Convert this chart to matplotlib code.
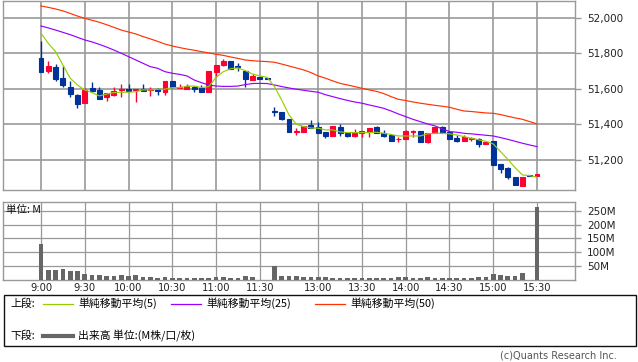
import matplotlib
matplotlib.use("Agg")
import matplotlib.pyplot as plt
from matplotlib.patches import Rectangle
from matplotlib.lines import Line2D
from matplotlib.ticker import FuncFormatter

# ---------------- data (5-minute candles, index 0 = 9:00) ----------------
open_ = [51773, 51702, 51724, 51660, 51610, 51565, 51521, 51604, 51593, 51551,
         51565, 51591, 51600, 51591, 51600, 51593, 51600, 51583, 51644, 51602,
         51600, 51608, 51604, 51583, 51693, 51734, 51756, 51728, 51700, 51649,
         51664, 51662, 51473, 51469, 51429, 51356, 51358, 51395, 51384, 51356,
         51335, 51384, 51352, 51335, 51348, 51354, 51384, 51352, 51341, 51314,
         51318, 51356, 51360, 51301, 51350, 51384, 51356, 51322, 51307, 51316,
         51314, 51290, 51303, 51175, 51151, 51100, 51053, 51113, 51109]
high = [51871, 51756, 51739, 51728, 51642, 51570, 51602, 51638, 51610, 51574,
        51608, 51625, 51625, 51597, 51627, 51608, 51606, 51644, 51644, 51627,
        51627, 51615, 51621, 51700, 51734, 51770, 51758, 51747, 51700, 51683,
        51664, 51662, 51495, 51471, 51429, 51376, 51392, 51423, 51412, 51356,
        51390, 51401, 51352, 51373, 51360, 51378, 51390, 51369, 51341, 51329,
        51367, 51367, 51360, 51350, 51384, 51390, 51360, 51337, 51337, 51329,
        51322, 51301, 51303, 51175, 51160, 51100, 51102, 51113, 51121]
low = [51696, 51691, 51645, 51608, 51555, 51493, 51521, 51580, 51544, 51533,
       51559, 51555, 51585, 51527, 51585, 51559, 51566, 51565, 51602, 51602,
       51598, 51583, 51583, 51583, 51664, 51730, 51711, 51700, 51612, 51649,
       51655, 51657, 51446, 51425, 51355, 51339, 51358, 51380, 51352, 51320,
       51335, 51335, 51329, 51329, 51328, 51328, 51352, 51329, 51307, 51297,
       51318, 51329, 51301, 51296, 51350, 51352, 51314, 51301, 51307, 51307,
       51273, 51290, 51171, 51126, 51092, 51059, 51053, 51107, 51109]
close = [51696, 51728, 51655, 51623, 51572, 51516, 51593, 51589, 51544, 51574,
         51587, 51598, 51585, 51597, 51589, 51597, 51589, 51644, 51608, 51608,
         51613, 51600, 51583, 51700, 51734, 51756, 51711, 51723, 51655, 51672,
         51657, 51657, 51469, 51429, 51358, 51360, 51392, 51380, 51352, 51335,
         51390, 51348, 51333, 51352, 51360, 51378, 51352, 51335, 51307, 51318,
         51360, 51360, 51301, 51350, 51384, 51352, 51318, 51307, 51326, 51320,
         51288, 51301, 51171, 51149, 51104, 51059, 51102, 51107, 51121]

ma5 = [51913, 51856, 51809, 51734, 51659, 51621, 51593, 51578, 51559, 51570,
       51578, 51580, 51580, 51583, 51593, 51593, 51597, 51597, 51606, 51606,
       51614, 51615, 51606, 51612, 51664, 51696, 51713, 51717, 51702, 51683,
       51672, 51664, 51612, 51536, 51452, 51399, 51386, 51378, 51377, 51367,
       51367, 51356, 51352, 51352, 51352, 51352, 51354, 51348, 51341, 51333,
       51333, 51333, 51333, 51345, 51348, 51348, 51345, 51339, 51329, 51320,
       51311, 51303, 51288, 51245, 51201, 51154, 51113, 51109, 51100]
ma25 = [51954, 51943, 51931, 51918, 51905, 51890, 51875, 51864, 51850, 51835,
        51818, 51800, 51781, 51762, 51743, 51724, 51715, 51696, 51687, 51681,
        51672, 51649, 51634, 51621, 51615, 51613, 51613, 51615, 51623, 51629,
        51630, 51629, 51621, 51612, 51604, 51597, 51591, 51585, 51580, 51566,
        51555, 51544, 51534, 51525, 51518, 51508, 51499, 51489, 51474, 51457,
        51442, 51427, 51414, 51401, 51390, 51373, 51358, 51354, 51348, 51345,
        51341, 51337, 51333, 51324, 51314, 51303, 51292, 51282, 51273]
ma50 = [52067, 52059, 52050, 52039, 52025, 52010, 51997, 51986, 51975, 51961,
        51946, 51931, 51920, 51909, 51894, 51881, 51867, 51852, 51841, 51832,
        51824, 51817, 51809, 51802, 51794, 51788, 51779, 51771, 51762, 51758,
        51755, 51753, 51749, 51739, 51728, 51717, 51706, 51691, 51672, 51659,
        51644, 51630, 51621, 51612, 51602, 51593, 51585, 51572, 51555, 51540,
        51533, 51525, 51518, 51512, 51506, 51501, 51495, 51484, 51474, 51471,
        51467, 51463, 51461, 51454, 51444, 51435, 51427, 51414, 51401]

volume = [130, 37, 37, 40, 31, 31, 23, 19, 19, 15,
          15, 19, 15, 19, 12, 12, 8, 12, 8, 8,
          8, 8, 8, 8, 12, 12, 8, 8, 15, 12,
          1, 0, 49, 15, 15, 15, 12, 12, 12, 12,
          8, 8, 8, 8, 8, 8, 8, 8, 8, 12,
          12, 8, 8, 12, 8, 8, 8, 8, 8, 8,
          12, 12, 23, 19, 15, 15, 26, 1, 263]

tick_pos = [0, 6, 12, 18, 24, 30, 38, 44, 50, 56, 62, 68]
tick_labels = ["9:00", "9:30", "10:00", "10:30", "11:00", "11:30",
               "13:00", "13:30", "14:00", "14:30", "15:00", "15:30"]
price_ticks = [51200, 51400, 51600, 51800, 52000]
vol_ticks = [50, 100, 150, 200, 250]

# ---------------- styling ----------------
UP = "#ff0033"
DOWN = "#003399"
C5 = "#99cc00"
C25 = "#9900ff"
C50 = "#ff3300"
GRID = "#999999"
VOL = "#666666"
JP = ["Noto Sans CJK JP", "DejaVu Sans"]

plt.rcParams["font.family"] = ["DejaVu Sans"]

W, H = 638, 362
fig = plt.figure(figsize=(W / 100, H / 100), dpi=100)
fig.patch.set_facecolor("white")


def box(l, t, r, b):
    return [l / W, 1 - b / H, (r - l) / W, (b - t) / H]


xlim = (-5.21, 73.14)
ax_p = fig.add_axes(box(3, 1, 574.5, 190))
ax_v = fig.add_axes(box(3, 201.7, 574.5, 280))

n = len(close)
xs = list(range(n))

for ax in (ax_p, ax_v):
    ax.set_xlim(*xlim)
    for s in ax.spines.values():
        s.set_color(GRID)
        s.set_linewidth(1.0)
    ax.set_xticks(tick_pos)
    ax.yaxis.tick_right()
    ax.tick_params(axis="y", which="both", length=4, color=GRID, width=1.0,
                   labelsize=7.5, pad=5, labelcolor="#222222")
    ax.tick_params(axis="x", length=0, labelsize=7.2, pad=2, labelcolor="#222222")
    ax.set_axisbelow(True)

# ---- price panel ----
ax_p.set_ylim(51028, 52095)
ax_p.set_yticks(price_ticks)
ax_p.yaxis.set_major_formatter(FuncFormatter(lambda v, p: f"{v:,.0f}"))
ax_p.grid(True, color=GRID, linewidth=1.2)
ax_p.tick_params(axis="x", labelbottom=False)

for i in xs:
    o, h, l, c = open_[i], high[i], low[i], close[i]
    col = UP if c >= o else DOWN
    ax_p.vlines(i, l, h, color=col, linewidth=1.0, zorder=3)
    ax_p.bar(i, max(abs(c - o), 0.1), bottom=min(o, c), width=0.68,
             color=col, edgecolor=col, linewidth=0.8, zorder=4)

ax_p.plot(xs, ma50, color=C50, linewidth=0.85, zorder=5)
ax_p.plot(xs, ma25, color=C25, linewidth=0.85, zorder=5)
ax_p.plot(xs, ma5, color=C5, linewidth=0.85, zorder=5)

# ---- volume panel ----
ax_v.set_ylim(0, 282.5)
ax_v.set_yticks(vol_ticks)
ax_v.yaxis.set_major_formatter(FuncFormatter(lambda v, p: f"{v:.0f}M"))
ax_v.grid(True, color=GRID, linewidth=0.9)
ax_v.set_xticklabels(tick_labels)
ax_v.bar(xs, volume, width=0.65, color=VOL, zorder=3)
ax_v.text(0.005, 0.965, "単位: M", transform=ax_v.transAxes, ha="left", va="top",
          fontsize=7.6, family=JP, color="#111111")

# ---- legend box (figure pixel coordinates) ----
lg = fig.add_axes([0, 0, 1, 1])
lg.set_xlim(0, W)
lg.set_ylim(H, 0)
lg.axis("off")
lg.patch.set_alpha(0)
lg.add_patch(Rectangle((3.5, 294.5), 632, 51, fill=False, edgecolor="#111111",
                       linewidth=1.0))
ty1, ty2 = 303.5, 335.5
fs = 7.8
lg.text(10, ty1, "上段:", fontsize=fs, family=JP, va="center", ha="left")
for x0, col, lab in [(43, C5, "単純移動平均(5)"),
                     (171, C25, "単純移動平均(25)"),
                     (315, C50, "単純移動平均(50)")]:
    lg.add_line(Line2D([x0, x0 + 30], [ty1, ty1], color=col, linewidth=0.9))
    lg.text(x0 + 35.5, ty1, lab, fontsize=fs, family=JP, va="center", ha="left")
lg.text(10, ty2, "下段:", fontsize=fs, family=JP, va="center", ha="left")
lg.add_line(Line2D([43, 73], [ty2, ty2], color=VOL, linewidth=3.0))
lg.text(78.5, ty2, "出来高 単位:(M株/口/枚)", fontsize=fs, family=JP,
        va="center", ha="left")
lg.text(617, 356, "(c)Quants Research Inc.", fontsize=7, color="#555555",
        va="center", ha="right")

fig.savefig("out.png", dpi=100, facecolor="white")
